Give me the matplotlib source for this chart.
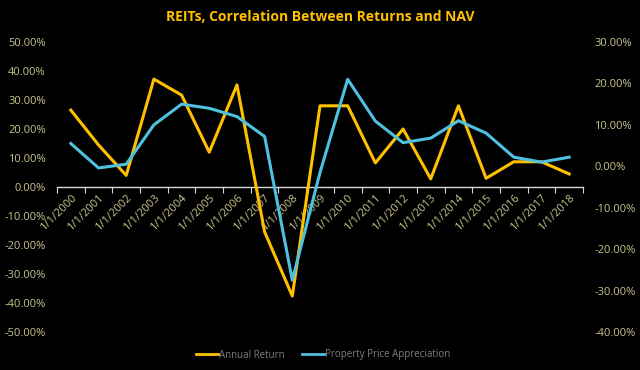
import matplotlib.pyplot as plt
from matplotlib.ticker import FuncFormatter, FixedLocator
from matplotlib.lines import Line2D

# --------------------------
# data
# --------------------------
years = list(range(2000, 2019))
tick_labels = [f"1/1/{y}" for y in years]

# left axis (%)
annual_return = [26.5, 14.5, 4.0, 37.2, 31.7, 12.0, 35.2, -15.5, -37.6, 28.0,
                 28.0, 8.3, 20.0, 2.8, 28.0, 3.0, 8.7, 8.7, 4.5]
# right axis (%)
property_appr = [5.5, -0.4, 0.5, 10.0, 15.0, 14.0, 12.0, 7.2, -27.5, -1.5,
                 21.0, 10.9, 5.7, 6.8, 11.0, 8.0, 2.2, 1.0, 2.2]

gold = "#FFC000"
blue = "#4FC1E0"
tick_col = "#C9C48E"
font = "Open Sans"

fig = plt.figure(figsize=(6.4, 3.7), dpi=100, facecolor="black")
ax = fig.add_axes([57 / 640, 1 - 332 / 370, 526 / 640, 290 / 370])
ax.set_facecolor("black")
ax2 = ax.twinx()

x = list(range(len(years)))
ax.plot(x, annual_return, color=gold, linewidth=2.2, zorder=3)
ax2.plot(x, property_appr, color=blue, linewidth=2.2, zorder=3)

ax.set_xlim(-0.5, len(years) - 0.5)
ax.set_ylim(-50, 50)
ax2.set_ylim(-40, 30)
ax.set_yticks(range(-50, 51, 10))
ax2.set_yticks(range(-40, 31, 10))

pct = FuncFormatter(lambda v, p: f"{v:.2f}%")
ax.yaxis.set_major_formatter(pct)
ax2.yaxis.set_major_formatter(pct)

for a in (ax, ax2):
    for s in a.spines.values():
        s.set_visible(False)
    a.tick_params(axis="y", length=0, colors=tick_col, labelsize=8)
    for lbl in a.get_yticklabels():
        lbl.set_fontfamily(font)
ax.tick_params(axis="y", pad=8)
ax2.tick_params(axis="y", pad=8)

# category axis drawn at zero
ax.spines["bottom"].set_visible(True)
ax.spines["bottom"].set_position(("data", 0))
ax.spines["bottom"].set_color("#D9D9D9")
ax.spines["bottom"].set_linewidth(1.0)
ax.xaxis.set_major_locator(FixedLocator([i - 0.5 for i in range(len(years) + 1)]))
ax.xaxis.set_minor_locator(FixedLocator(x))
ax.set_xticklabels([])
ax.set_xticklabels(tick_labels, minor=True, rotation=45, ha="right",
                   rotation_mode="anchor", fontfamily=font)
ax.tick_params(axis="x", which="major", length=4, color="#D9D9D9", direction="out")
ax.tick_params(axis="x", which="minor", length=0, colors=tick_col, labelsize=8, pad=4)

fig.text(0.5, 1 - 17 / 370, "REITs, Correlation Between Returns and NAV",
         ha="center", va="center", color=gold, fontsize=10,
         fontweight="bold", fontfamily=font)

handles = [Line2D([], [], color=gold, linewidth=2.0),
           Line2D([], [], color=blue, linewidth=2.0)]
fig.legend(handles, ["Annual Return", "Property Price Appreciation"],
           loc="center", bbox_to_anchor=(0.505, 1 - 355 / 370), ncol=2,
           frameon=False, fontsize=7, labelcolor="#7F7F7F",
           prop={"family": font, "size": 7}, handlelength=2.3,
           handletextpad=0.1, columnspacing=1.8)

fig.savefig("out.png", dpi=100, facecolor="black")
